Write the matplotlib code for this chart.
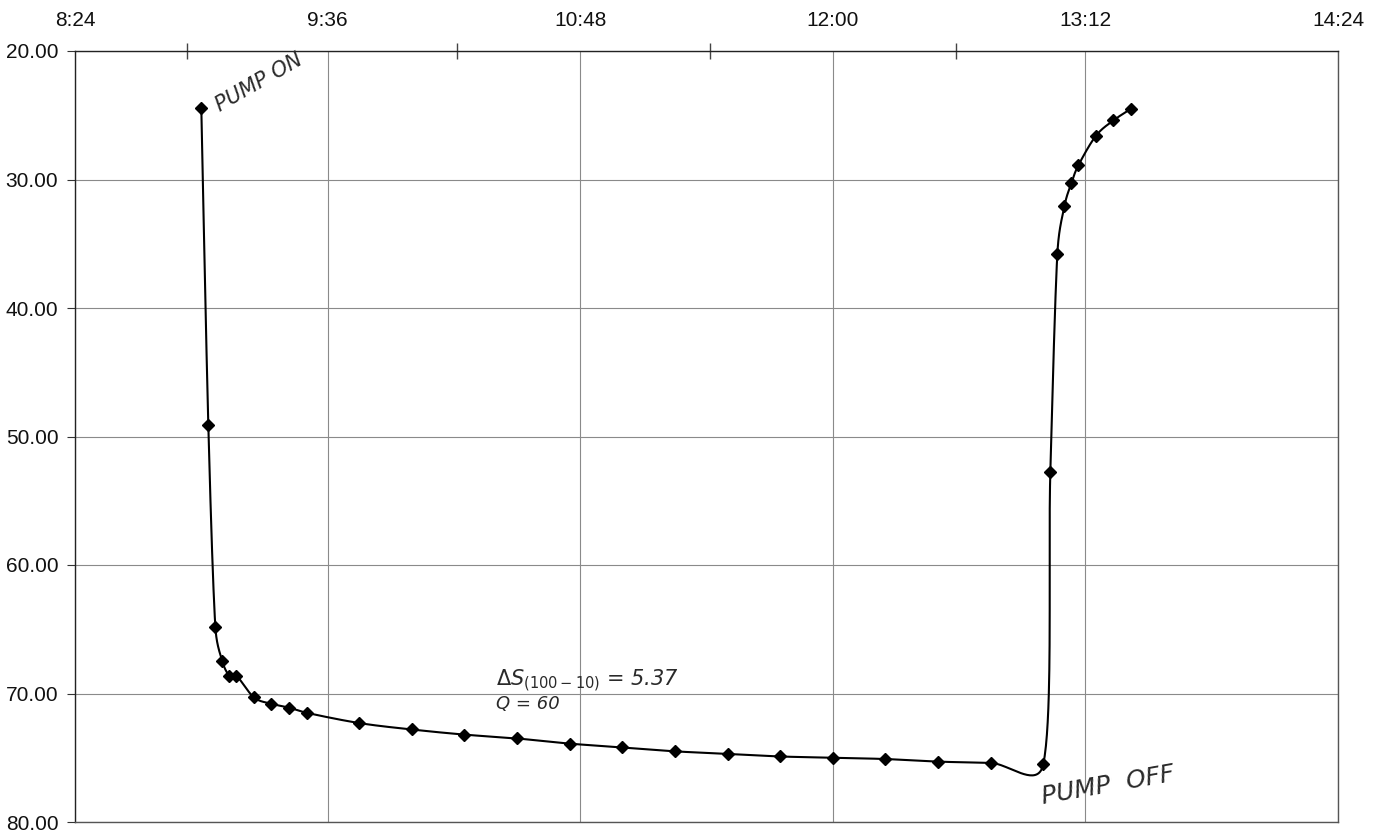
import matplotlib
matplotlib.use('Agg')
import matplotlib.pyplot as plt
from matplotlib.ticker import FixedLocator, FuncFormatter
import numpy as np

plt.rcParams['font.family'] = ['Liberation Sans', 'DejaVu Sans']

# tiempos de lectura y nivel del agua (profundidad)
times = ['9:00', '9:02', '9:04', '9:06', '9:08', '9:10', '9:15', '9:20', '9:25', '9:30',
         '9:45', '10:00', '10:15', '10:30', '10:45', '11:00', '11:15', '11:30', '11:45',
         '12:00', '12:15', '12:30', '12:45', '13:00',
         '13:02', '13:04', '13:06', '13:08', '13:10', '13:15', '13:20', '13:25']
levels = [24.4, 49.1, 64.8, 67.5, 68.6, 68.6, 70.3, 70.8, 71.1, 71.5,
          72.3, 72.8, 73.2, 73.5, 73.9, 74.2, 74.5, 74.7, 74.9,
          75.0, 75.1, 75.3, 75.4, 75.5,
          52.8, 35.8, 32.1, 30.3, 28.9, 26.6, 25.4, 24.5]

x_ticks = ['8:24', '9:36', '10:48', '12:00', '13:12', '14:24']
y_ticks = [20, 30, 40, 50, 60, 70, 80]
pen_marks = ['8:56', '10:13', '11:25', '12:35']  # marcas a mano en el eje


def horas(t):
    h, m = t.split(':')
    return int(h) + int(m) / 60.0


def fmt_hora(v, pos=None):
    h = int(v + 1e-6)
    m = int(round((v - h) * 60))
    if m == 60:
        h, m = h + 1, 0
    return '%d:%02d' % (h, m)


x = np.array([horas(t) for t in times])
y = np.array(levels)
xt = [horas(t) for t in x_ticks]

# curva suavizada en escala de pantalla (catmull-rom con control limitado)
sx, sy = 210.5, 12.85
P = np.column_stack([x * sx, y * sy])
P = np.vstack([P[0], P, P[-1]])
M = [(P[i + 1] - P[i - 1]) / 6.0 for i in range(1, len(P) - 1)]
M = [M[0]] + M + [M[-1]]


def limita(m, L):
    n = np.hypot(*m)
    if n > 0.5 * L:
        return m * (0.5 * L / n)
    return m


cx, cy = [], []
for i in range(1, len(P) - 2):
    p1, p2 = P[i], P[i + 1]
    L = np.hypot(*(p2 - p1))
    c1 = p1 + limita(M[i], L)
    c2 = p2 - limita(M[i + 1], L)
    t = np.linspace(0, 1, 40)[:, None]
    b = (1 - t) ** 3 * p1 + 3 * (1 - t) ** 2 * t * c1 + 3 * (1 - t) * t ** 2 * c2 + t ** 3 * p2
    cx.extend(b[:, 0] / sx)
    cy.extend(b[:, 1] / sy)

fig = plt.figure(figsize=(13.85, 8.34), dpi=100)
ax = fig.add_axes([75 / 1385, 1 - 822 / 834, (1338 - 75) / 1385, (822 - 51) / 834])

ax.plot(cx, cy, color='black', lw=1.5, zorder=3)
ax.plot(x, y, linestyle='none', marker='D', ms=6, color='black', zorder=4)

ax.set_xlim(xt[0], xt[-1])
ax.set_ylim(80, 20)
ax.xaxis.set_major_locator(FixedLocator(xt))
ax.xaxis.set_major_formatter(FuncFormatter(fmt_hora))
ax.xaxis.set_minor_locator(FixedLocator([horas(t) for t in pen_marks]))
ax.set_yticks(y_ticks)
ax.yaxis.set_major_formatter(FuncFormatter(lambda v, p: '%.2f' % v))

ax.xaxis.tick_top()
ax.tick_params(axis='x', which='major', length=0, pad=15, labelsize=15, colors='#111111')
ax.tick_params(axis='x', which='minor', length=12, direction='inout', width=1.0, color='#444444')
ax.tick_params(axis='y', length=6, direction='out', pad=6, labelsize=15, colors='#111111')
ax.tick_params(axis='y', color='#333333')

ax.grid(True, which='major', color='#8a8a8a', lw=0.8)
for s in ax.spines.values():
    s.set_color('#555555')
    s.set_linewidth(1.0)
ax.spines['left'].set_color('#222222')
ax.spines['top'].set_color('#222222')

# notas escritas a mano
nota = dict(color='#2a2a2a', style='italic', family=['DejaVu Sans'])
ax.text(horas('9:03'), 25.0, 'PUMP ON', rotation=30, fontsize=15, ha='left', va='bottom', **nota)
ax.text(horas('12:59'), 79.0, 'PUMP  OFF', rotation=10, fontsize=18, ha='left', va='bottom', **nota)
ax.text(horas('10:24'), 70.0, r'$\Delta S_{(100-10)}$ = 5.37', fontsize=15, ha='left', va='bottom', **nota)
ax.text(horas('10:24'), 71.5, 'Q = 60', fontsize=13, ha='left', va='bottom', **nota)

fig.savefig('out.png', dpi=100)
